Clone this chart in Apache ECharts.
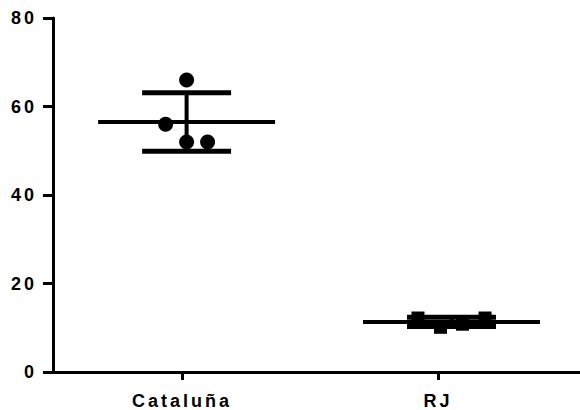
<!DOCTYPE html>
<html>
<head>
<meta charset="utf-8">
<script src="https://cdn.jsdelivr.net/npm/echarts@6/dist/echarts.min.js"></script>
<style>
  html, body { margin: 0; padding: 0; background: #fff; }
  #chart { width: 580px; height: 410px; }
  /* wide tracking on all axis text */
  #chart text { letter-spacing: 3px; }
</style>
</head>
<body>
<div id="chart"></div>
<script>
// ---- data ----
const categories = ['Cataluña', 'RJ'];
const catalunaValues = [66, 56, 52, 52];
const rjValues = [12.2, 10.1, 10.8, 12.2];
const yTicks = [0, 20, 40, 60, 80];

// ---- layout (x-axis units) ----
const groupCenters = [0.018, 1.053];
const catalunaSpread = [0, -0.082, 0, 0.082];
const rjSpread = [-0.131, -0.043, 0.043, 0.131];
const MEAN_HALF = 0.3457;
const CAP_HALF = 0.1738;

function mean(a) { return a.reduce((s, v) => s + v, 0) / a.length; }
function sd(a) {
  const m = mean(a);
  return Math.sqrt(a.reduce((s, v) => s + (v - m) * (v - m), 0) / (a.length - 1));
}

const groups = [catalunaValues, rjValues];
const summary = groups.map((vals, i) => [groupCenters[i], mean(vals), sd(vals)]);

const catalunaPoints = catalunaValues.map((v, i) => [groupCenters[0] + catalunaSpread[i], v]);
const rjPoints = rjValues.map((v, i) => [groupCenters[1] + rjSpread[i], v]);

// mean line, SD whisker and caps for one group
function renderErrorBar(params, api) {
  const cx = api.value(0), m = api.value(1), s = api.value(2);
  const l = api.coord([cx - MEAN_HALF, m]);
  const r = api.coord([cx + MEAN_HALF, m]);
  const top = api.coord([cx, m + s]);
  const bot = api.coord([cx, m - s]);
  const cl = api.coord([cx - CAP_HALF, m])[0];
  const cr = api.coord([cx + CAP_HALF, m])[0];
  const st = (w) => ({ stroke: '#000', lineWidth: w, fill: null });
  return {
    type: 'group',
    children: [
      { type: 'line', shape: { x1: l[0], y1: l[1], x2: r[0], y2: r[1] }, style: st(4) },
      { type: 'line', shape: { x1: top[0], y1: top[1], x2: bot[0], y2: bot[1] }, style: st(4) },
      { type: 'line', shape: { x1: cl, y1: top[1], x2: cr, y2: top[1] }, style: st(5) },
      { type: 'line', shape: { x1: cl, y1: bot[1], x2: cr, y2: bot[1] }, style: st(5) }
    ]
  };
}

const font = 'Liberation Sans, Arial, Helvetica, sans-serif';

const chart = echarts.init(document.getElementById('chart'), null, { renderer: 'svg' });
chart.setOption({
  animation: false,
  backgroundColor: '#fff',
  grid: { left: 53, right: 0, top: 18, bottom: 38, containLabel: false, outerBoundsMode: 'none' },
  xAxis: {
    type: 'value',
    min: -0.504,
    max: 1.555,
    axisLine: { show: true, onZero: false, lineStyle: { color: '#000', width: 3 } },
    axisTick: { show: true, length: 8, customValues: [0, 1], lineStyle: { color: '#000', width: 3 } },
    axisLabel: {
      customValues: [0, 1],
      formatter: (v) => categories[Math.round(v)],
      color: '#000', fontFamily: font, fontWeight: 'bold', fontSize: 18, margin: 20
    },
    splitLine: { show: false }
  },
  yAxis: {
    type: 'value',
    min: yTicks[0],
    max: yTicks[yTicks.length - 1],
    interval: yTicks[1] - yTicks[0],
    axisLine: { show: true, onZero: false, lineStyle: { color: '#000', width: 3 } },
    axisTick: { show: true, length: 10, lineStyle: { color: '#000', width: 3 } },
    axisLabel: { color: '#000', fontFamily: font, fontWeight: 'bold', fontSize: 18, margin: 16 },
    splitLine: { show: false }
  },
  series: [
    {
      type: 'custom',
      renderItem: renderErrorBar,
      data: summary,
      encode: { x: 0, y: 1 },
      clip: false,
      z: 2
    },
    {
      type: 'scatter',
      data: catalunaPoints,
      symbol: 'circle',
      symbolSize: 15,
      itemStyle: { color: '#000', opacity: 1 },
      z: 3
    },
    {
      type: 'scatter',
      data: rjPoints,
      symbol: 'rect',
      symbolSize: 13,
      itemStyle: { color: '#000', opacity: 1 },
      z: 3
    }
  ]
});
</script>
</body>
</html>
